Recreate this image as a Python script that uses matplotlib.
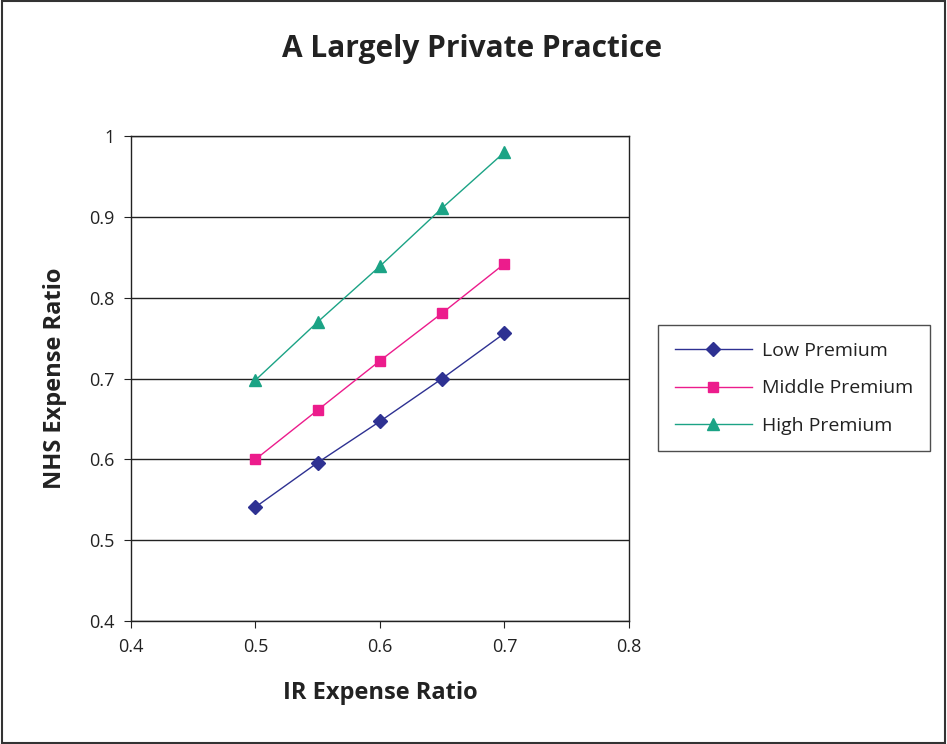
import matplotlib
matplotlib.use("Agg")
import matplotlib.pyplot as plt
from matplotlib.patches import Rectangle

plt.rcParams['font.family'] = ['Open Sans', 'DejaVu Sans']

ir_ratio = [0.5, 0.55, 0.6, 0.65, 0.7]
low_premium = [0.541, 0.596, 0.647, 0.700, 0.756]
middle_premium = [0.600, 0.661, 0.722, 0.781, 0.842]
high_premium = [0.698, 0.770, 0.839, 0.911, 0.980]

fig = plt.figure(figsize=(9.47, 7.44), dpi=100)
# outer frame
fig.patches.append(Rectangle((0.002, 0.002), 0.996, 0.996, transform=fig.transFigure,
                             fill=False, edgecolor='#333333', linewidth=1.5))

ax = fig.add_axes([0.1383, 0.1653, 0.5259, 0.6519])
ax.plot(ir_ratio, low_premium, color='#2E3192', marker='D', markersize=7, linewidth=1,
        label='Low Premium')
ax.plot(ir_ratio, middle_premium, color='#EC1C8C', marker='s', markersize=7, linewidth=1,
        label='Middle Premium')
ax.plot(ir_ratio, high_premium, color='#1BA385', marker='^', markersize=9, linewidth=1,
        label='High Premium')

ax.set_xlim(0.4, 0.8)
ax.set_ylim(0.4, 1.0)
ax.set_xticks([0.4, 0.5, 0.6, 0.7, 0.8])
ax.set_yticks([0.4, 0.5, 0.6, 0.7, 0.8, 0.9, 1.0])
ax.set_xticklabels(['0.4', '0.5', '0.6', '0.7', '0.8'])
ax.set_yticklabels(['0.4', '0.5', '0.6', '0.7', '0.8', '0.9', '1'])
ax.yaxis.grid(True, color='#222222', linewidth=1)
ax.set_axisbelow(True)
for s in ax.spines.values():
    s.set_color('#222222')
    s.set_linewidth(1)
ax.tick_params(axis='both', direction='out', length=5, color='#222222',
               labelsize=13, labelcolor='#222222', pad=7)

ax.set_xlabel('IR Expense Ratio', fontsize=17, fontweight='bold', color='#222222', labelpad=18)
ax.set_ylabel('NHS Expense Ratio', fontsize=17, fontweight='bold', color='#222222', labelpad=16)
fig.text(0.4985, 0.934, 'A Largely Private Practice', ha='center', va='center',
         fontsize=21.5, fontweight='bold', color='#222222')

leg = fig.legend(loc='center left', bbox_to_anchor=(0.6949, 0.478), fontsize=14,
                 frameon=True, fancybox=False, edgecolor='#222222', borderpad=0.85,
                 labelspacing=1.0, handlelength=4.0, handletextpad=0.5, borderaxespad=0)
leg.get_frame().set_linewidth(1)
for t in leg.get_texts():
    t.set_color('#222222')

fig.savefig('out.png', dpi=100)
